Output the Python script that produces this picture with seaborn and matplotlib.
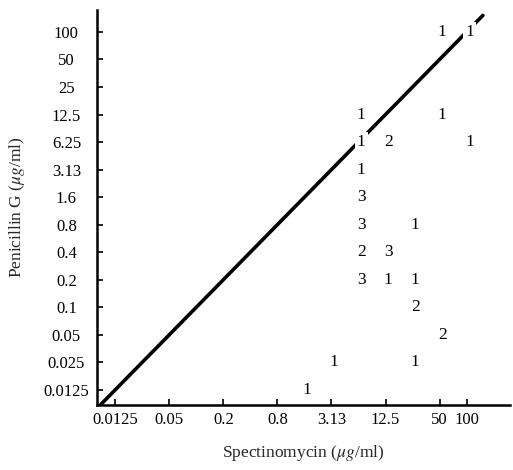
import numpy as np
import matplotlib
matplotlib.use("Agg")
import matplotlib.pyplot as plt
import seaborn as sns
import pandas as pd

# dilution series used on both axes (ug/ml)
levels = ["0.0125", "0.025", "0.05", "0.1", "0.2", "0.4", "0.8",
          "1.6", "3.13", "6.25", "12.5", "25", "50", "100"]
x_tick_levels = ["0.0125", "0.05", "0.2", "0.8", "3.13", "12.5", "50", "100"]

# MIC of each strain group: spectinomycin, penicillin G, number of strains
spectino = ["50", "100", "6.25", "50", "6.25", "12.5", "100", "6.25", "6.25",
            "6.25", "25", "6.25", "12.5", "6.25", "12.5", "25", "25", "50",
            "3.13", "25", "1.6"]
penicillin = ["100", "100", "12.5", "12.5", "6.25", "6.25", "6.25", "3.13", "1.6",
              "0.8", "0.8", "0.4", "0.4", "0.2", "0.2", "0.2", "0.1", "0.05",
              "0.025", "0.025", "0.0125"]
counts = [1, 1, 1, 1, 1, 2, 1, 1, 3, 3, 1, 2, 3, 3, 1, 1, 2, 2, 1, 1, 1]

pos = {v: i for i, v in enumerate(levels)}
df = pd.DataFrame({
    "x": [pos[v] for v in spectino],
    "y": [pos[v] for v in penicillin],
    "n": counts,
})

sns.set_style("ticks")
plt.rcParams["font.family"] = ["Liberation Serif", "DejaVu Serif"]
plt.rcParams["mathtext.fontset"] = "stix"

fig = plt.figure(figsize=(5.13, 4.70), dpi=100)
ax = fig.add_axes([0.189, 0.138, 0.805, 0.841])

# equality line (same concentration on both axes)
diag = pd.DataFrame({"x": [-0.7, len(levels) - 0.4], "y": [-0.7, len(levels) - 0.4]})
sns.lineplot(data=diag, x="x", y="y", color="black", linewidth=2.6, ax=ax)

for _, r in df.iterrows():
    ax.text(r["x"] + 0.1, r["y"], str(int(r["n"])), ha="center", va="center",
            fontsize=12.5, color="black", zorder=5,
            bbox=dict(facecolor="white", edgecolor="none", pad=1.5))

ax.set_xlim(-0.67, 14.6)
ax.set_ylim(-0.55, 13.8)
ax.set_xticks([pos[v] for v in x_tick_levels])
ax.set_xticklabels(x_tick_levels)
ax.set_yticks(range(len(levels)))
ax.set_yticklabels(levels)
ax.tick_params(direction="in", length=4, width=1.2, labelsize=12, colors="black")
ax.tick_params(axis="y", pad=22)
ax.tick_params(axis="x", pad=5)
for lab in ax.get_yticklabels():
    lab.set_horizontalalignment("center")

sns.despine(ax=ax)
for s in ["left", "bottom"]:
    ax.spines[s].set_linewidth(1.8)
    ax.spines[s].set_color("black")

ax.set_xlabel(r"Spectinomycin ($\mu g$/ml)", fontsize=12.5, labelpad=11)
ax.set_ylabel(r"Penicillin G ($\mu g$/ml)", fontsize=12.5, labelpad=12)

fig.savefig("out.png", dpi=100)
